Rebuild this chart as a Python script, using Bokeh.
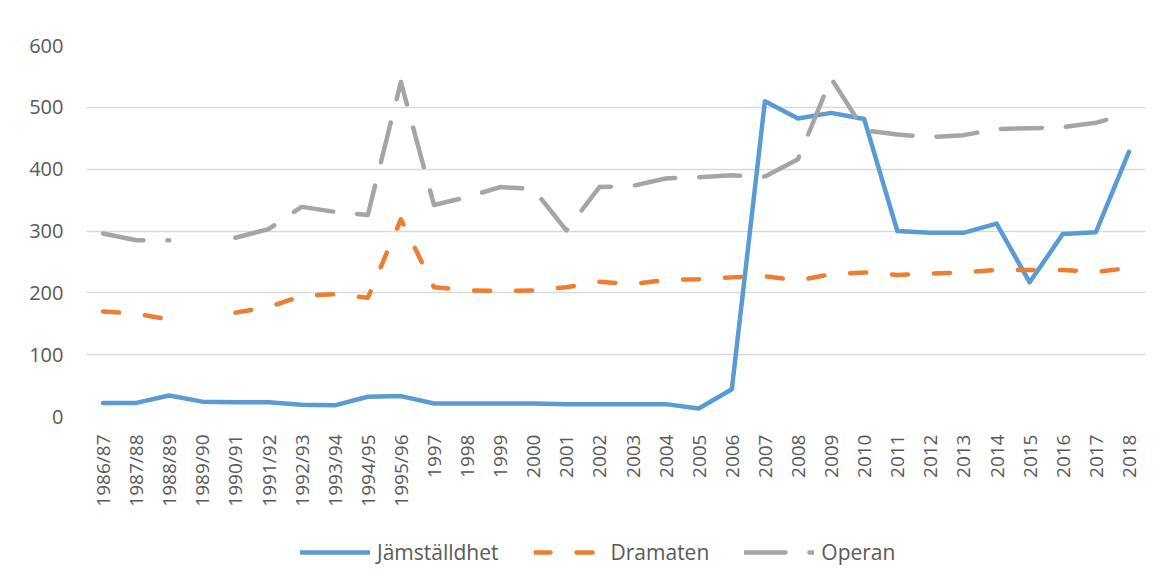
import math
import numpy as np
from bokeh.plotting import figure
from bokeh.layouts import column
from bokeh.models import Legend, LegendItem, FactorRange, Range1d, SingleIntervalTicker
from bokeh.embed import file_html
from bokeh.resources import INLINE

categories = ["1986/87", "1987/88", "1988/89", "1989/90", "1990/91", "1991/92",
              "1992/93", "1993/94", "1994/95", "1995/96", "1997", "1998", "1999",
              "2000", "2001", "2002", "2003", "2004", "2005", "2006", "2007",
              "2008", "2009", "2010", "2011", "2012", "2013", "2014", "2015",
              "2016", "2017", "2018"]

jamstalldhet = [22, 22, 34, 24, 23, 23, 19, 18, 32, 33,
                21, 21, 21, 21, 20, 20, 20, 20, 13, 44,
                510, 482, 491, 481, 300, 297, 297, 312, 217, 295, 298, 428]

dramaten = [170, 166, 157, np.nan, 168, 177, 195, 198, 192, 319,
            209, 204, 203, 204, 209, 218, 214, 221, 222, 225,
            227, 220, 230, 233, 229, 231, 233, 237, 237, 237, 234, 240]

operan = [296, 285, 285, np.nan, 289, 303, 339, 331, 326, 541,
          342, 355, 371, 368, 301, 371, 373, 385, 387, 390,
          388, 416, 547, 463, 456, 452, 455, 465, 466, 468, 475, 490]

series_names = ["Jämställdhet", "Dramaten", "Operan"]

FONT = "Open Sans"
TXT = "#595959"
STYLES = [dict(line_color="#5B9BD5", line_width=4.5, line_cap="round", line_join="round"),
          dict(line_color="#ED7D31", line_width=4.5, line_cap="round", line_join="round",
               line_dash="16 26"),
          dict(line_color="#A5A5A5", line_width=4.5, line_cap="round", line_join="round",
               line_dash="41 24")]

p = figure(x_range=FactorRange(*categories, range_padding=0),
           y_range=Range1d(0, 600),
           frame_width=1059, frame_height=371,
           output_backend="svg", toolbar_location=None,
           min_border_left=86, min_border_right=10, min_border_top=45,
           min_border_bottom=0)
p.outline_line_color = None
p.background_fill_color = "white"
p.border_fill_color = "white"

for vals, st in zip([jamstalldhet, dramaten, operan], STYLES):
    p.line(categories, vals, **st)

p.xgrid.grid_line_color = None
p.ygrid.grid_line_color = "#d9d9d9"
p.ygrid.grid_line_width = 1.5
p.yaxis.ticker = SingleIntervalTicker(interval=100)

for ax in (p.xaxis[0], p.yaxis[0]):
    ax.axis_line_color = None
    ax.major_tick_line_color = None
    ax.minor_tick_line_color = None
    ax.major_tick_out = 0
    ax.major_tick_in = 0
    ax.major_label_text_font = FONT
    ax.major_label_text_color = TXT
    ax.axis_label = None

p.xaxis.major_label_text_font_size = "19px"
p.yaxis.major_label_text_font_size = "20px"
p.yaxis.major_label_standoff = 19
p.xaxis.major_label_standoff = 18
p.xaxis.major_label_orientation = math.pi / 2

# legend strip below the chart
lf = figure(width=1145, height=72, x_range=Range1d(0, 1), y_range=Range1d(0, 1),
            output_backend="svg", toolbar_location=None,
            min_border_left=0, min_border_right=0, min_border_top=0, min_border_bottom=0)
lf.axis.visible = False
lf.grid.visible = False
lf.outline_line_color = None
lf.border_fill_color = "white"
items = []
for name, st in zip(series_names, STYLES):
    r = lf.line(x=[np.nan, np.nan], y=[np.nan, np.nan], **st)
    items.append(LegendItem(label=name, renderers=[r]))

legend = Legend(items=items, orientation="horizontal", location=(214, 15),
                glyph_width=70, glyph_height=20, label_standoff=7, spacing=35,
                label_text_font=FONT, label_text_font_size="21px",
                label_text_color=TXT, border_line_color=None,
                background_fill_alpha=0, padding=0, margin=0)
lf.add_layout(legend)

layout = column(p, lf, spacing=0)
open("out.html", "w").write(file_html(layout, INLINE))
